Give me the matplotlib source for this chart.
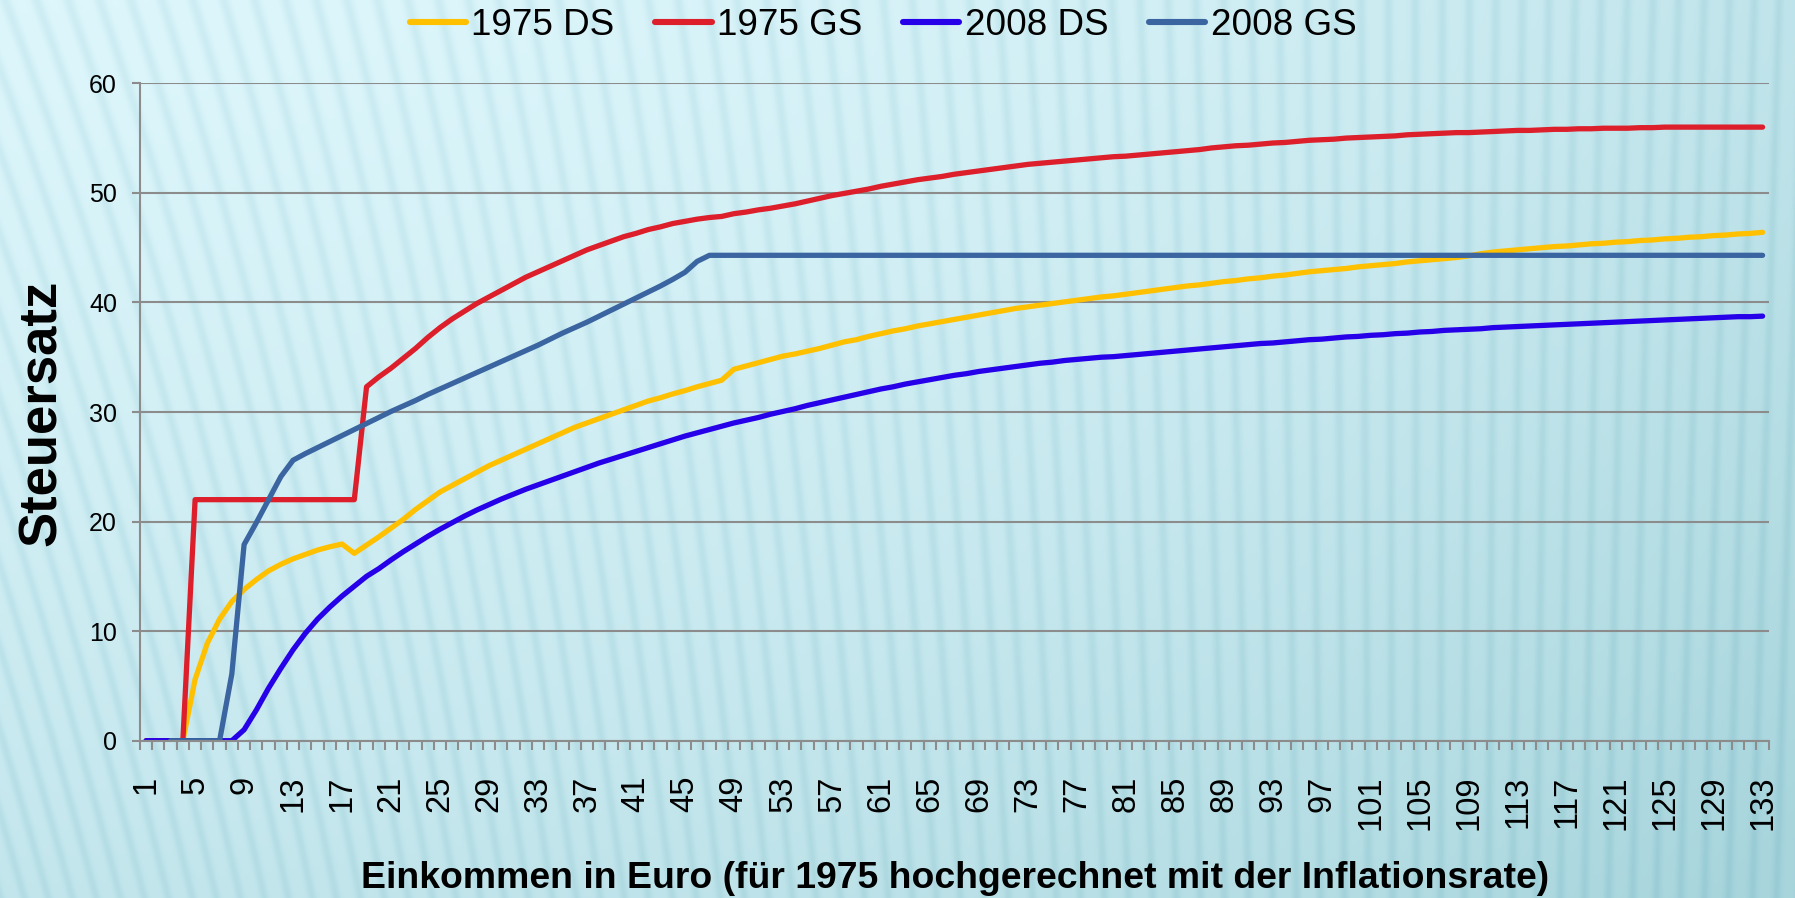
import numpy as np
import matplotlib
matplotlib.use("Agg")
import matplotlib.pyplot as plt
from matplotlib.ticker import FixedLocator

plt.rcParams['font.family'] = ['Liberation Sans', 'DejaVu Sans']

# Einkommensstufen 1..133 (Kategorien der x-Achse)
stufen = list(range(1, 134))
tick_labels = [str(s) for s in stufen[::4]]

ds_1975 = [0, 0, 0, 0, 5.6, 8.9, 11.1, 12.7, 13.8, 14.7,
           15.5, 16.1, 16.6, 17.0, 17.4, 17.7, 17.95, 17.1, 17.85, 18.6,
           19.4, 20.2, 21.1, 21.9, 22.7, 23.3, 23.9, 24.5, 25.1, 25.6,
           26.1, 26.6, 27.1, 27.6, 28.1, 28.6, 29.0, 29.4, 29.8, 30.2,
           30.6, 31.0, 31.3, 31.65, 31.95, 32.3, 32.6, 32.9, 33.9, 34.2,
           34.5, 34.8, 35.1, 35.3, 35.55, 35.8, 36.1, 36.4, 36.6, 36.9,
           37.15, 37.4, 37.6, 37.85, 38.05, 38.25, 38.45, 38.65, 38.85, 39.05,
           39.25, 39.45, 39.6, 39.75, 39.9, 40.05, 40.2, 40.35, 40.5, 40.6,
           40.75, 40.9, 41.05, 41.2, 41.35, 41.5, 41.6, 41.75, 41.9, 42.0,
           42.15, 42.25, 42.4, 42.5, 42.65, 42.8, 42.9, 43.0, 43.1, 43.25,
           43.35, 43.45, 43.55, 43.7, 43.8, 43.9, 44.0, 44.1, 44.25, 44.45,
           44.6, 44.7, 44.8, 44.9, 45.0, 45.1, 45.15, 45.25, 45.35, 45.4,
           45.5, 45.55, 45.65, 45.7, 45.8, 45.85, 45.95, 46.0, 46.1, 46.15,
           46.25, 46.3, 46.4]

gs_1975 = [0, 0, 0, 0, 22, 22, 22, 22, 22, 22,
           22, 22, 22, 22, 22, 22, 22, 22, 32.3, 33.2,
           34.0, 34.9, 35.8, 36.8, 37.7, 38.5, 39.2, 39.9, 40.5, 41.1,
           41.7, 42.3, 42.8, 43.3, 43.8, 44.3, 44.8, 45.2, 45.6, 46.0,
           46.3, 46.65, 46.9, 47.2, 47.4, 47.6, 47.75, 47.85, 48.1, 48.25,
           48.45, 48.6, 48.8, 49.0, 49.25, 49.5, 49.75, 49.95, 50.15, 50.35,
           50.6, 50.8, 51.0, 51.2, 51.35, 51.5, 51.7, 51.85, 52.0, 52.15,
           52.3, 52.45, 52.6, 52.7, 52.8, 52.9, 53.0, 53.1, 53.2, 53.3,
           53.35, 53.45, 53.55, 53.65, 53.75, 53.85, 53.95, 54.1, 54.2, 54.3,
           54.35, 54.45, 54.55, 54.6, 54.7, 54.8, 54.85, 54.9, 55.0, 55.05,
           55.1, 55.15, 55.2, 55.3, 55.35, 55.4, 55.45, 55.5, 55.5, 55.55,
           55.6, 55.65, 55.7, 55.7, 55.75, 55.8, 55.8, 55.85, 55.85, 55.9,
           55.9, 55.9, 55.95, 55.95, 56.0, 56.0, 56.0, 56.0, 56.0, 56.0,
           56.0, 56.0, 56.0]

ds_2008 = [0, 0, 0, 0, 0, 0, 0, 0, 1.0, 2.8,
           4.8, 6.6, 8.3, 9.8, 11.1, 12.2, 13.2, 14.1, 15.0, 15.7,
           16.5, 17.25, 17.95, 18.65, 19.3, 19.9, 20.5, 21.05, 21.55, 22.05,
           22.5, 22.95, 23.35, 23.75, 24.15, 24.55, 24.95, 25.35, 25.7, 26.05,
           26.4, 26.75, 27.1, 27.45, 27.8, 28.1, 28.4, 28.7, 29.0, 29.25,
           29.5, 29.8, 30.05, 30.3, 30.6, 30.85, 31.1, 31.35, 31.6, 31.85,
           32.1, 32.3, 32.55, 32.75, 32.95, 33.15, 33.35, 33.5, 33.7, 33.85,
           34.0, 34.15, 34.3, 34.45, 34.55, 34.7, 34.8, 34.9, 35.0, 35.05,
           35.15, 35.25, 35.35, 35.45, 35.55, 35.65, 35.75, 35.85, 35.95, 36.05,
           36.15, 36.25, 36.3, 36.4, 36.5, 36.6, 36.65, 36.75, 36.85, 36.9,
           37.0, 37.05, 37.15, 37.2, 37.3, 37.35, 37.45, 37.5, 37.55, 37.6,
           37.7, 37.75, 37.8, 37.85, 37.9, 37.95, 38.0, 38.05, 38.1, 38.15,
           38.2, 38.25, 38.3, 38.35, 38.4, 38.45, 38.5, 38.55, 38.6, 38.65,
           38.7, 38.7, 38.75]

gs_2008 = [None, None, 0, 0, 0, 0, 0, 6.1, 17.9, 19.9,
           22.0, 24.1, 25.6, 26.2, 26.75, 27.3, 27.85, 28.4, 28.95, 29.5,
           30.05, 30.55, 31.05, 31.6, 32.1, 32.6, 33.1, 33.6, 34.1, 34.6,
           35.1, 35.6, 36.1, 36.65, 37.2, 37.7, 38.2, 38.75, 39.3, 39.85,
           40.4, 40.95, 41.5, 42.1, 42.75, 43.75, 44.3, 44.3, 44.3, 44.3,
           44.3, 44.3, 44.3, 44.3, 44.3, 44.3, 44.3, 44.3, 44.3, 44.3,
           44.3, 44.3, 44.3, 44.3, 44.3, 44.3, 44.3, 44.3, 44.3, 44.3,
           44.3, 44.3, 44.3, 44.3, 44.3, 44.3, 44.3, 44.3, 44.3, 44.3,
           44.3, 44.3, 44.3, 44.3, 44.3, 44.3, 44.3, 44.3, 44.3, 44.3,
           44.3, 44.3, 44.3, 44.3, 44.3, 44.3, 44.3, 44.3, 44.3, 44.3,
           44.3, 44.3, 44.3, 44.3, 44.3, 44.3, 44.3, 44.3, 44.3, 44.3,
           44.3, 44.3, 44.3, 44.3, 44.3, 44.3, 44.3, 44.3, 44.3, 44.3,
           44.3, 44.3, 44.3, 44.3, 44.3, 44.3, 44.3, 44.3, 44.3, 44.3,
           44.3, 44.3, 44.3]

series = [("1975 DS", ds_1975, "#FFC000"),
          ("1975 GS", gs_1975, "#DC1F2B"),
          ("2008 DS", ds_2008, "#2600E8"),
          ("2008 GS", gs_2008, "#3A65A0")]

W, H = 1795, 898
fig = plt.figure(figsize=(W / 100, H / 100), dpi=100)

# background: light blue gradient with diagonal stripes
bg = fig.add_axes([0, 0, 1, 1], zorder=-10)
X, Y = np.meshgrid(np.arange(W), np.arange(H))
t = np.clip(0.5 * (Y / H) ** 1.3 + 0.55 * (X / W) ** 2.2, 0, 1)
light = np.array([0.865, 0.965, 0.985])
dark = np.array([0.66, 0.835, 0.865])
img = light + (dark - light) * t[..., None]
slant = 0.32 * (1 - X / W) ** 1.5 - 0.03
u = X + (H - Y) * slant
stripe = 0.5 + 0.5 * np.cos(2 * np.pi * u / 24.0)
img = img - 0.06 * (stripe ** 3)[..., None] * np.array([1.0, 0.6, 0.5])
bg.imshow(np.clip(img, 0, 1), aspect='auto', extent=(0, 1, 0, 1))
bg.axis('off')

ax = fig.add_axes([140 / W, 1 - 740.7 / H, 1628.7 / W, 657.4 / H])
ax.patch.set_alpha(0)

handles = []
for name, vals, col in series:
    y = np.array([np.nan if v is None else v for v in vals], dtype=float)
    ln, = ax.plot(stufen, y, color=col, lw=3.8, label=name,
                  solid_joinstyle='round', solid_capstyle='round')
    handles.append(ln)

grid_col = '#8C8C8C'
ax.set_xlim(0.5, 133.5)
ax.set_ylim(0, 60)
ax.set_yticks(range(0, 61, 10))
ax.yaxis.grid(True, color=grid_col, lw=1.5)
ax.set_axisbelow(True)
for s in ['top', 'right']:
    ax.spines[s].set_visible(False)
for s in ['left', 'bottom']:
    ax.spines[s].set_color(grid_col)
    ax.spines[s].set_linewidth(1.5)

ax.tick_params(axis='y', length=5.5, width=1.5, color=grid_col, pad=11,
               labelsize=18)
ax.set_xticks(stufen[::4])
ax.set_xticklabels(tick_labels, rotation=90, fontsize=23.5)
ax.xaxis.set_minor_locator(FixedLocator(np.arange(0.5, 134, 1)))
ax.tick_params(axis='x', which='major', length=0, pad=25)
ax.tick_params(axis='x', which='minor', length=6.5, width=1.5, color=grid_col)

fig.text(42 / W, 1 - 413 / H, 'Steuersatz', rotation=90, fontsize=38,
         fontweight='bold', ha='center', va='center')
fig.text(955 / W, 1 - 879 / H,
         'Einkommen in Euro (für 1975 hochgerechnet mit der Inflationsrate)',
         fontsize=26.9, fontweight='bold', ha='center', va='center')

leg = fig.legend(handles=handles, loc='center', ncol=4,
                 bbox_to_anchor=(883 / W, 1 - 25.5 / H), frameon=False,
                 fontsize=26.6, handlelength=1.53, handletextpad=0.14,
                 columnspacing=1.1, borderpad=0, borderaxespad=0)
for lh in leg.get_lines():
    lh.set_linewidth(4.4)

fig.savefig('out.png', dpi=100)
